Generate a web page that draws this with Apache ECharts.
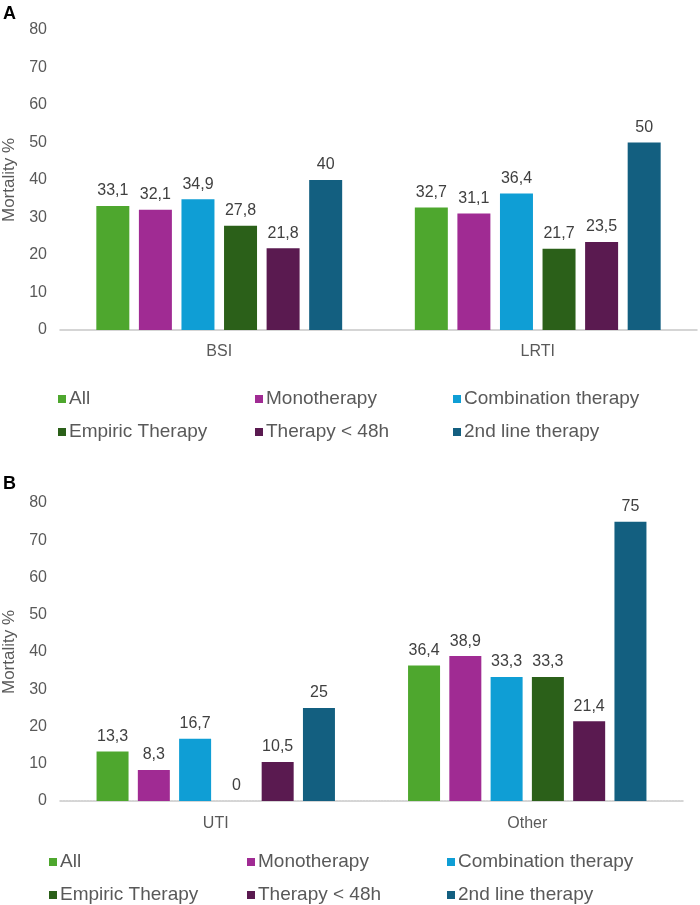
<!DOCTYPE html>
<html>
<head>
<meta charset="utf-8">
<script src="https://cdn.jsdelivr.net/npm/echarts@6/dist/echarts.min.js"></script>
<style>html,body{margin:0;padding:0;background:#fff}#c{width:700px;height:905px}</style>
</head>
<body>
<div id="c"></div>
<script>
// ---- data ----
const seriesNames = ['All', 'Monotherapy', 'Combination therapy', 'Empiric Therapy', 'Therapy < 48h', '2nd line therapy'];
const seriesColors = ['#4EA72E', '#A02B93', '#0F9ED5', '#2B6019', '#5A1A50', '#135F80'];
const categoriesA = ['BSI', 'LRTI'];
const categoriesB = ['UTI', 'Other'];
const valuesBSI = [33.1, 32.1, 34.9, 27.8, 21.8, 40];
const valuesLRTI = [32.7, 31.1, 36.4, 21.7, 23.5, 50];
const valuesUTI = [13.3, 8.3, 16.7, 0, 10.5, 25];
const valuesOther = [36.4, 38.9, 33.3, 33.3, 21.4, 75];
const yTicks = [0, 10, 20, 30, 40, 50, 60, 70, 80];

const FONT = '"Liberation Sans", Arial, sans-serif';
const fmt = v => String(v).replace('.', ',');

function makeSeries(axisIdx, vals, bw) {
  return seriesNames.map((name, i) => ({
    name: name,
    type: 'bar',
    xAxisIndex: axisIdx,
    yAxisIndex: axisIdx,
    barWidth: bw,
    barGap: '29%',
    itemStyle: { color: seriesColors[i] },
    label: {
      show: true, position: 'top', distance: 7,
      color: '#404040', fontSize: 16, fontFamily: FONT,
      formatter: p => fmt(p.value)
    },
    data: vals.map(v => v[i])
  }));
}

function yAxis(gi) {
  return {
    type: 'value', gridIndex: gi, min: yTicks[0], max: yTicks[yTicks.length - 1], interval: 10,
    axisLine: { show: false }, axisTick: { show: false }, splitLine: { show: false },
    axisLabel: { color: '#595959', fontSize: 16, fontFamily: FONT, margin: 13 },
    name: 'Mortality %', nameLocation: 'middle', nameGap: 38,
    nameTextStyle: { color: '#595959', fontSize: 17, fontFamily: FONT }
  };
}
function xAxis(gi, cats, dashed, margin) {
  return {
    type: 'category', gridIndex: gi, data: cats,
    axisLine: { show: true, lineStyle: { color: '#C8C8C8', width: 1.5, type: dashed ? [2, 1] : 'solid' } },
    axisTick: { show: false },
    axisLabel: { color: '#595959', fontSize: 16, fontFamily: FONT, margin: margin }
  };
}
function legends(top, lefts) {
  const cols = [[seriesNames[0], seriesNames[3]], [seriesNames[1], seriesNames[4]], [seriesNames[2], seriesNames[5]]];
  return cols.map((d, k) => ({
    data: d, orient: 'vertical', left: lefts[k], top: top, padding: 0,
    itemWidth: 8, itemHeight: 8, itemGap: 13, icon: 'rect',
    selectedMode: false,
    textStyle: { color: '#595959', fontSize: 19, fontFamily: FONT, lineHeight: 20, padding: [0, 0, 0, -2] }
  }));
}

const chart = echarts.init(document.getElementById('c'), null, { renderer: 'canvas' });
chart.setOption({
  animation: false,
  backgroundColor: '#fff',
  title: [
    { text: 'A', left: 3, top: 5, padding: 0, textStyle: { fontSize: 18, fontWeight: 'bold', color: '#000', fontFamily: FONT } },
    { text: 'B', left: 3, top: 475, padding: 0, textStyle: { fontSize: 18, fontWeight: 'bold', color: '#000', fontFamily: FONT } }
  ],
  grid: [
    { left: 60, width: 637, top: 30, height: 300, outerBoundsMode: 'none', containLabel: false },
    { left: 60, width: 623, top: 503, height: 298, outerBoundsMode: 'none', containLabel: false }
  ],
  xAxis: [xAxis(0, categoriesA, false, 14), xAxis(1, categoriesB, true, 15)],
  yAxis: [yAxis(0), yAxis(1)],
  legend: legends(389, [58, 255, 453]).concat(legends(852, [49, 247, 447])),
  series: makeSeries(0, [valuesBSI, valuesLRTI], 33).concat(makeSeries(1, [valuesUTI, valuesOther], 32))
});
</script>
</body>
</html>
